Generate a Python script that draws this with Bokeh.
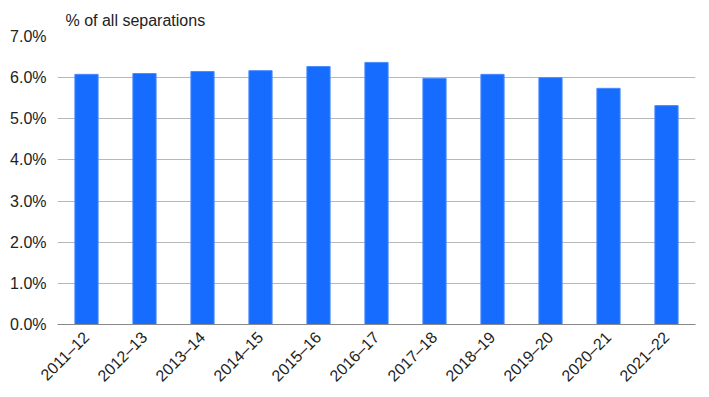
from bokeh.plotting import figure
from bokeh.models import Range1d, FactorRange, PrintfTickFormatter, FixedTicker, Title
from bokeh.embed import file_html
from bokeh.resources import INLINE
import math

years = ["2011–12", "2012–13", "2013–14", "2014–15", "2015–16", "2016–17",
         "2017–18", "2018–19", "2019–20", "2020–21", "2021–22"]
share = [6.08, 6.10, 6.15, 6.17, 6.27, 6.37, 5.98, 6.08, 6.00, 5.74, 5.32]
y_ticks = [0, 1, 2, 3, 4, 5, 6, 7]

FONT = "Liberation Sans"

p = figure(width=709, height=397, x_range=FactorRange(*years, range_padding=0),
           y_range=Range1d(0, 7), output_backend="svg", toolbar_location=None,
           min_border_left=57, min_border_right=14, min_border_top=36, min_border_bottom=73)
p.outline_line_color = None
p.background_fill_color = "white"

p.vbar(x=years, top=share, width=0.4, fill_color="#166CFF", line_color="#4A8BFF", line_width=1)

p.add_layout(Title(text="% of all separations", align="left", offset=8, standoff=16,
                   text_font=FONT, text_font_size="16px", text_font_style="normal",
                   text_color="#222222"), "above")

p.yaxis.ticker = FixedTicker(ticks=y_ticks)
p.yaxis.formatter = PrintfTickFormatter(format="%.1f%%")
p.yaxis.axis_line_color = None
p.yaxis.major_tick_line_color = None
p.yaxis.minor_tick_line_color = None
p.yaxis.major_label_text_font = FONT
p.yaxis.major_label_text_font_size = "16px"
p.yaxis.major_label_text_color = "#222222"
p.yaxis.major_label_standoff = 5

p.xaxis.axis_line_color = "#888888"
p.xaxis.major_tick_line_color = None
p.xaxis.minor_tick_line_color = None
p.xaxis.major_label_orientation = math.pi / 4
p.xaxis.major_label_text_font = FONT
p.xaxis.major_label_text_font_size = "16px"
p.xaxis.major_label_text_color = "#222222"
p.xaxis.major_label_standoff = 4

p.xgrid.grid_line_color = None
p.ygrid.grid_line_color = "#b7b7b7"
p.ygrid.grid_line_width = 1

open("out.html", "w").write(file_html(p, INLINE))
